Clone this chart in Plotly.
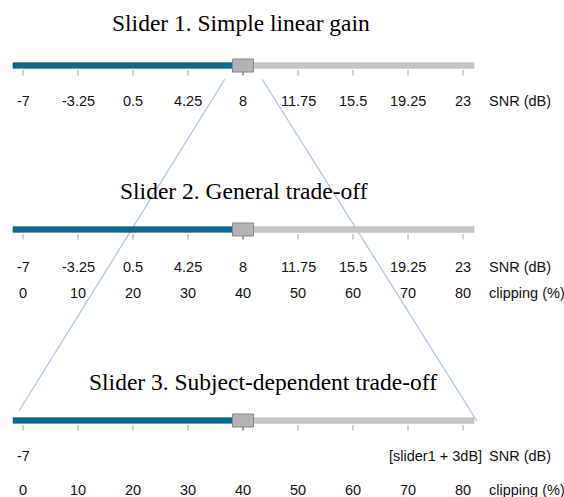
import plotly.graph_objects as go

# ---- data ----
snr_ticks = [-7, -3.25, 0.5, 4.25, 8, 11.75, 15.5, 19.25, 23]
snr_labels = ["-7", "-3.25", "0.5", "4.25", "8", "11.75", "15.5", "19.25", "23"]
clip_ticks = [0, 10, 20, 30, 40, 50, 60, 70, 80]
clip_labels = ["0", "10", "20", "30", "40", "50", "60", "70", "80"]
slider_titles = ["Slider 1. Simple linear gain",
                 "Slider 2. General trade-off",
                 "Slider 3. Subject-dependent trade-off"]
slider_value = 8          # SNR (dB) at the thumb
slider3_snr_labels = ["-7"]
slider3_snr_note = "[slider1 + 3dB]"
snr_unit = "SNR (dB)"
clip_unit = "clipping (%)"

# ---- layout constants ----
W, H = 564, 497
XMIN, XMAX = -8.568, 29.886
PXU = W / (XMAX - XMIN)           # pixels per dB
bar_y = [65.5, 229.5, 420.5]
title_y = [23, 191, 382]
title_x = [241, 244, 263]
snr_lab_y = [100.5, 266.5, 456]
clip_lab_y = [None, 292.5, 489.5]
pad_l, pad_r = 0.68, 0.75
thumb_half = 10.5 / PXU

TEAL = "#0a6d8d"
TEAL_EDGE = "#07516b"
GREY = "#c6c6c6"
GREY_EDGE = "#b2b2b2"
THUMB = "#b3b3b3"
THUMB_EDGE = "#878787"
CONN = "#a9c1e8"

SANS = "Liberation Sans, Arial, sans-serif"
SERIF = "Liberation Serif, Times New Roman, serif"

snr_min, snr_max = snr_ticks[0], snr_ticks[-1]
snr_step = snr_ticks[1] - snr_ticks[0]
clip_step = clip_ticks[1] - clip_ticks[0]


def clip_to_x(c):
    return snr_min + (c - clip_ticks[0]) * snr_step / clip_step


fig = go.Figure()
shapes = []
annotations = []

# connector (zoom) lines, drawn first so they are underneath
conn_top_y = bar_y[0] + 13.5
conn_left = ([slider_value - 1.23, snr_min - 0.27], [conn_top_y, 411])
conn_right = ([slider_value + 1.30, snr_max + 0.95], [conn_top_y, 421])
for xs, ys in (conn_left, conn_right):
    fig.add_trace(go.Scatter(x=xs, y=ys, mode="lines",
                             line=dict(color=CONN, width=1.2),
                             hoverinfo="skip", showlegend=False))

for i, by in enumerate(bar_y):
    x0 = snr_min - pad_l
    x1 = snr_max + pad_r
    # ticks
    for t in snr_ticks:
        col = "#2d3c6b" if t == slider_value else "#a0a0a0"
        shapes.append(dict(type="line", xref="x", yref="y", x0=t, x1=t,
                           y0=by + 4.5, y1=by + 10, line=dict(color=col, width=1),
                           layer="above"))
    # gray remainder
    shapes.append(dict(type="rect", xref="x", yref="y", x0=slider_value, x1=x1,
                       y0=by - 2.8, y1=by + 2.8, fillcolor=GREY,
                       line=dict(color=GREY_EDGE, width=0.6), layer="above"))
    # teal filled part
    shapes.append(dict(type="rect", xref="x", yref="y", x0=x0, x1=slider_value,
                       y0=by - 2.8, y1=by + 2.8, fillcolor=TEAL,
                       line=dict(color=TEAL_EDGE, width=0.6), layer="above"))
    # thumb
    shapes.append(dict(type="rect", xref="x", yref="y",
                       x0=slider_value - thumb_half, x1=slider_value + thumb_half,
                       y0=by - 6.5, y1=by + 6.5, fillcolor=THUMB,
                       line=dict(color=THUMB_EDGE, width=1), layer="above"))
    # title
    annotations.append(dict(text=slider_titles[i], xref="paper", yref="y",
                            x=title_x[i] / W, y=title_y[i], xanchor="center",
                            yanchor="middle", showarrow=False,
                            font=dict(family=SERIF, size=23.5, color="#000")))

tick_font = dict(family=SANS, size=14.5, color="#111")
# SNR labels rows 1 and 2
for row in (0, 1):
    for t, lab in zip(snr_ticks, snr_labels):
        annotations.append(dict(text=lab, xref="x", yref="y", x=t, y=snr_lab_y[row],
                                xanchor="center", yanchor="middle",
                                showarrow=False, font=tick_font))
    annotations.append(dict(text=snr_unit, xref="paper", yref="y", x=487 / W,
                            y=snr_lab_y[row], xanchor="left", yanchor="middle",
                            showarrow=False, font=tick_font))
# row 3 SNR labels
for t, lab in zip(snr_ticks, slider3_snr_labels):
    annotations.append(dict(text=lab, xref="x", yref="y", x=t, y=snr_lab_y[2],
                            xanchor="center", yanchor="middle",
                            showarrow=False, font=tick_font))
annotations.append(dict(text=slider3_snr_note, xref="paper", yref="y", x=484 / W,
                        y=snr_lab_y[2], xanchor="right", yanchor="middle",
                        showarrow=False, font=tick_font))
annotations.append(dict(text=snr_unit, xref="paper", yref="y", x=487 / W,
                        y=snr_lab_y[2], xanchor="left", yanchor="middle",
                        showarrow=False, font=tick_font))
# clipping labels rows 2 and 3
for row in (1, 2):
    for c, lab in zip(clip_ticks, clip_labels):
        annotations.append(dict(text=lab, xref="x", yref="y", x=clip_to_x(c),
                                y=clip_lab_y[row], xanchor="center",
                                yanchor="middle", showarrow=False, font=tick_font))
    annotations.append(dict(text=clip_unit, xref="paper", yref="y", x=487 / W,
                            y=clip_lab_y[row], xanchor="left", yanchor="middle",
                            showarrow=False, font=tick_font))

fig.update_layout(
    width=W, height=H,
    margin=dict(l=0, r=0, t=0, b=0),
    paper_bgcolor="white", plot_bgcolor="white",
    xaxis=dict(range=[XMIN, XMAX], visible=False, fixedrange=True),
    yaxis=dict(range=[H, 0], visible=False, fixedrange=True),
    shapes=shapes, annotations=annotations, showlegend=False,
)

fig.write_html("out.html", config={"displayModeBar": False},
               post_script="document.body.style.margin='0';document.body.style.overflow='hidden';")
